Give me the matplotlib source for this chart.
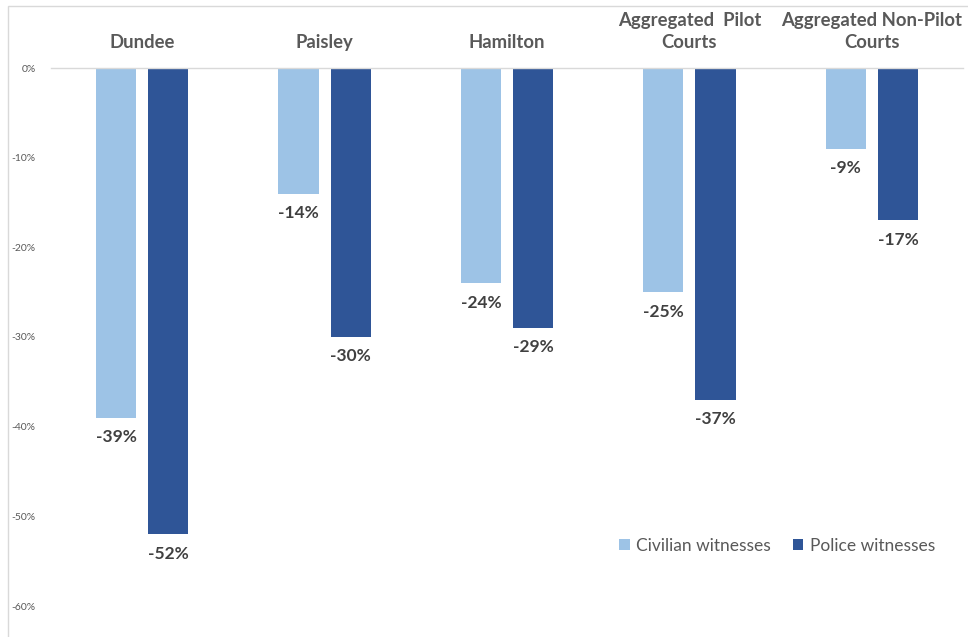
import matplotlib
matplotlib.use("Agg")
import matplotlib.pyplot as plt
import numpy as np
from matplotlib.patches import Rectangle
from matplotlib.ticker import FuncFormatter

plt.rcParams['font.family'] = ['Lato', 'DejaVu Sans']

categories = ["Dundee", "Paisley", "Hamilton", "Aggregated  Pilot\nCourts", "Aggregated Non-Pilot\nCourts"]
civilian = [-39, -14, -24, -25, -9]
police = [-52, -30, -29, -37, -17]
yticks = [0, -10, -20, -30, -40, -50, -60]

light = "#9DC3E6"
dark = "#2F5597"
label_col = "#404040"
text_col = "#595959"

W, H = 968, 637
fig = plt.figure(figsize=(W / 100, H / 100), dpi=100)
fig.patches.append(Rectangle((8 / W, -0.1), 1.2, 1 - 6 / H + 0.1, transform=fig.transFigure,
                             fill=False, edgecolor="#D9D9D9", linewidth=1.0))

ax = fig.add_axes([51 / W, 1 - 606 / H, (963 - 51) / W, (606 - 68) / H])
x = np.arange(len(categories))
off = 0.143
bw = 0.22
b1 = ax.bar(x - off, civilian, bw, color=light, label="Civilian witnesses")
b2 = ax.bar(x + off, police, bw, color=dark, label="Police witnesses")

for bars, vals in ((b1, civilian), (b2, police)):
    for rect, v in zip(bars, vals):
        ax.annotate(f"{v}%", (rect.get_x() + rect.get_width() / 2, v),
                    xytext=(0, -14), textcoords="offset points",
                    ha="center", va="center", fontsize=12.5, fontweight="bold", color=label_col)

ax.set_xlim(-0.5, len(categories) - 0.5)
ax.set_ylim(-60, 0)
ax.set_yticks(yticks)
ax.yaxis.set_major_formatter(FuncFormatter(lambda v, p: f"{int(v)}%"))
ax.tick_params(axis="y", length=0, pad=11, labelsize=7.5, labelcolor=text_col)

ax.xaxis.tick_top()
ax.set_xticks(x)
ax.set_xticklabels(categories, fontsize=13.3, fontweight="bold", color=text_col, linespacing=1.35)
ax.tick_params(axis="x", length=0, pad=12)

for s in ("left", "right", "bottom"):
    ax.spines[s].set_visible(False)
ax.spines["top"].set_color("#D9D9D9")
ax.spines["top"].set_linewidth(1.0)

fig.legend(handles=[b1, b2], loc="center", bbox_to_anchor=(777 / W, 1 - 546 / H), ncol=2,
           frameon=False, fontsize=12.5, handlelength=0.6, handleheight=0.6,
           handletextpad=0.35, columnspacing=1.3, labelcolor=text_col)

fig.savefig("out.png", dpi=100)
